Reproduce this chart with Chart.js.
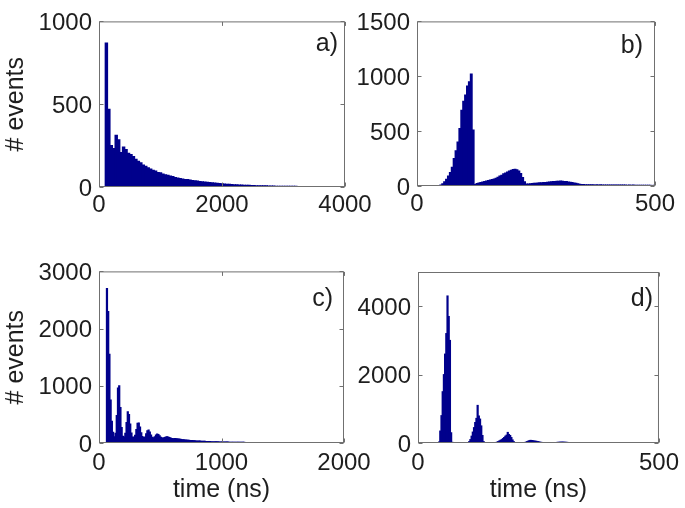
<!DOCTYPE html>
<html>
<head>
<meta charset="utf-8">
<script src="https://cdn.jsdelivr.net/npm/chart.js@4/dist/chart.umd.min.js"></script>
<style>
  html, body { margin: 0; background: #fff; }
  body { width: 685px; height: 508px; position: relative; overflow: hidden; }
  canvas { position: absolute; }
</style>
</head>
<body>
<canvas id="pa" width="380" height="250" style="left:0;top:0"></canvas>
<canvas id="pb" width="345" height="250" style="left:340px;top:0"></canvas>
<canvas id="pc" width="380" height="258" style="left:0;top:250px"></canvas>
<canvas id="pd" width="345" height="258" style="left:340px;top:250px"></canvas>
<script>
// Four arrival-time histograms. Counts, one value per bin.
// Bins are uniform per panel: first bin edge + bin width, both in ns.

// a) 40 ns bins from 100 ns
const binStartA = 100, binWidthA = 40;
const countsA = [
  870, 470, 250, 232, 312, 285, 208, 242, 226, 204,
  196, 184, 168, 155, 147, 133, 126, 116, 109, 101,
  96, 88, 86, 79, 74, 71, 66, 63, 57, 55,
  51, 49, 46, 45, 42, 40, 37, 36, 33, 32,
  30, 28, 27, 25, 24, 22, 21, 19, 18, 17,
  16, 15, 14, 13, 12, 12, 11, 10, 10, 9,
  9, 8, 8, 7, 7, 7, 6, 6, 6, 5,
  5, 5, 5, 4, 4, 4, 4, 4, 3, 3,
  3, 3, 3, 3, 3, 2, 2, 2, 2, 2,
  2, 2, 2, 2, 2, 2, 2,
];

// b) 4 ns bins from 40 ns
const binStartB = 40, binWidthB = 4;
const countsB = [
  1, 3, 9, 20, 38, 62, 92, 122, 172, 250,
  322, 402, 525, 690, 772, 830, 912, 950, 1020, 510,
  14, 22, 27, 33, 37, 42, 46, 50, 55, 59,
  63, 71, 80, 91, 99, 111, 119, 128, 137, 144,
  150, 153, 147, 136, 114, 78, 38, 19, 18, 20,
  23, 24, 26, 27, 29, 30, 32, 33, 35, 37,
  38, 40, 42, 44, 43, 45, 44, 41, 40, 37,
  35, 31, 28, 24, 20, 17, 14, 13, 12, 12,
  11, 11, 12, 10, 11, 10, 11, 10, 9, 10,
  9, 10, 9, 9, 8, 9, 8, 9, 8, 8,
  7, 8, 7, 8, 7, 7, 6, 7, 6, 7,
  6, 6, 6, 5, 6,
];

// c) 10 ns bins from 60 ns
const binStartC = 60, binWidthC = 10;
const countsC = [
  2700, 2300, 1550, 750, 380, 190, 110, 170, 480, 960,
  1000, 620, 270, 120, 105, 170, 360, 545, 500, 330,
  175, 105, 100, 135, 235, 345, 350, 280, 180, 115,
  95, 105, 160, 215, 226, 192, 140, 102, 92, 108,
  140, 157, 150, 125, 102, 88, 86, 96, 106, 110,
  104, 94, 86, 80, 76, 78, 80, 76, 71, 68,
  64, 62, 58, 57, 54, 52, 50, 47, 45, 44,
  42, 40, 38, 37, 36, 35, 33, 32, 31, 30,
  29, 28, 27, 26, 25, 24, 24, 23, 22, 21,
  21, 20, 19, 19, 18, 18, 17, 17, 16, 16,
  15, 15, 14, 14, 13, 13, 13, 12, 12, 12,
  11, 11, 11, 10, 10, 10, 10, 9, 9, 9,
  9, 8, 8, 8, 8, 8, 7, 7, 7, 7,
  7, 6, 6, 6, 6, 6, 6, 6, 5, 5,
  5, 5, 5, 5, 5, 5, 4, 4, 4, 4,
  4, 4, 4, 4, 4, 4, 4, 3, 3, 3,
  3, 3, 3, 3, 3, 3, 3, 3, 3, 3,
  3, 3, 2, 2, 2, 2, 2, 2, 2, 2,
  2, 2, 2, 2, 2, 2, 2, 2, 2, 2,
  2, 2, 2, 2,
];

// d) 2.5 ns bins from 40 ns
const binStartD = 40, binWidthD = 2.5;
const countsD = [
  0, 30, 350, 800, 1500, 2000, 2600, 3200, 4300, 3700,
  3000, 300, 20, 5, 2, 0, 0, 0, 0, 0,
  0, 0, 0, 2, 5, 10, 40, 100, 200, 320,
  450, 600, 720, 1100, 790, 700, 500, 220, 40, 10,
  3, 1, 0, 0, 0, 1, 2, 5, 10, 25,
  40, 60, 80, 100, 130, 160, 200, 230, 310, 250,
  220, 160, 90, 40, 15, 6, 3, 2, 2, 3,
  5, 8, 15, 25, 40, 55, 70, 78, 72, 66,
  60, 55, 48, 40, 32, 25, 18, 12, 8, 5,
  3, 2, 2, 3, 4, 6, 9, 12, 15, 18,
  21, 24, 26, 25, 27, 24, 22, 19, 16, 13,
  10, 8, 6, 4, 3, 3, 3, 4, 5, 6,
  7, 8, 9, 10, 10, 11, 10, 9, 8, 7,
  6, 5, 4, 3, 3, 2, 2, 2, 2, 1,
  1, 1, 1, 1,
];

// tick values per panel
const xTicksA = [0, 2000, 4000], yTicksA = [0, 500, 1000];
const xTicksB = [0, 500], yTicksB = [0, 500, 1000, 1500];
const xTicksC = [0, 1000, 2000], yTicksC = [0, 1000, 2000, 3000];
const xTicksD = [0, 500], yTicksD = [0, 2000, 4000];

const FONT = "'Liberation Sans', Arial, Helvetica, sans-serif";
const INK = "#1e1e1e";
const AXIS = "#707070";
const BAR = "#00008c";

Chart.defaults.font.family = FONT;
Chart.defaults.font.size = 24;
Chart.defaults.color = INK;

// matlab-ish box: full frame, inward ticks on all four sides, panel letter top right
const boxFrame = {
  id: "boxFrame",
  afterDatasetsDraw(chart, _args, opts) {
    const { ctx, chartArea: area, scales } = chart;
    const L = area.left + 0.5, R = area.right - 0.5, T = area.top + 0.5, B = area.bottom - 0.5;
    ctx.save();
    ctx.strokeStyle = AXIS;
    ctx.lineWidth = 1;
    ctx.strokeRect(L, T, R - L, B - T);
    ctx.beginPath();
    for (const t of scales.x.ticks) {
      const px = Math.round(scales.x.getPixelForValue(t.value)) + 0.5;
      ctx.moveTo(px, B); ctx.lineTo(px, B - 4);
      ctx.moveTo(px, T); ctx.lineTo(px, T + 4);
    }
    for (const t of scales.y.ticks) {
      const py = Math.round(scales.y.getPixelForValue(t.value)) + 0.5;
      ctx.moveTo(L, py); ctx.lineTo(L + 4, py);
      ctx.moveTo(R, py); ctx.lineTo(R - 4, py);
    }
    ctx.stroke();
    ctx.fillStyle = INK;
    ctx.font = `25px ${FONT}`;
    ctx.textAlign = "right";
    ctx.textBaseline = "middle";
    ctx.fillText(opts.letter, area.right - opts.dx, area.top + opts.dy);
    ctx.restore();
  },
};

function histogram(id, p) {
  const centers = p.counts.map((_, i) => p.start + (i + 0.5) * p.width);
  return new Chart(document.getElementById(id), {
    type: "bar",
    data: {
      labels: centers,
      datasets: [{
        data: p.counts,
        backgroundColor: BAR,
        borderWidth: 0,
        inflateAmount: 0.5, // slight overlap so no light seams between bins
        barPercentage: 1,
        categoryPercentage: 1,
      }],
    },
    options: {
      responsive: false,
      animation: false,
      events: [],
      layout: { padding: { top: p.padTop, right: p.padRight, left: 0, bottom: 0 } },
      plugins: {
        legend: { display: false },
        tooltip: { enabled: false },
        boxFrame: { letter: p.letter, dx: p.dx, dy: p.dy },
      },
      scales: {
        x: {
          type: "linear",
          min: 0,
          max: p.xMax,
          offset: false,
          grid: { display: false, drawTicks: false },
          border: { display: false },
          afterBuildTicks: (s) => { s.ticks = p.xTicks.map((v) => ({ value: v })); },
          afterFit: (s) => { s.height = p.xAxisHeight; },
          ticks: { autoSkip: false, maxRotation: 0, padding: p.xPad, callback: (v) => String(v) },
          title: { display: !!p.xTitle, text: p.xTitle, font: { size: 25 }, padding: { top: 0, bottom: 3 } },
        },
        y: {
          min: 0,
          max: p.yMax,
          grid: { display: false, drawTicks: false },
          border: { display: false },
          afterBuildTicks: (s) => { s.ticks = p.yTicks.map((v) => ({ value: v })); },
          afterFit: (s) => { s.width = p.yAxisWidth; },
          ticks: { padding: 7, labelOffset: 2, callback: (v) => String(v) },
          title: { display: !!p.yTitle, text: p.yTitle, font: { size: 25 }, padding: { top: 1, bottom: 0 } },
        },
      },
    },
    plugins: [boxFrame],
  });
}

histogram("pa", {
  start: binStartA, width: binWidthA, counts: countsA, xMax: 4000, yMax: 1000,
  xTicks: xTicksA, yTicks: yTicksA, yAxisWidth: 99, xAxisHeight: 63, padTop: 15, padRight: 35,
  xPad: 4, letter: "a)", dx: 7, dy: 23, yTitle: "# events",
});
histogram("pb", {
  start: binStartB, width: binWidthB, counts: countsB, xMax: 500, yMax: 1500,
  xTicks: xTicksB, yTicks: yTicksB, yAxisWidth: 77, xAxisHeight: 64, padTop: 15, padRight: 30,
  xPad: 4, letter: "b)", dx: 12, dy: 25,
});
histogram("pc", {
  start: binStartC, width: binWidthC, counts: countsC, xMax: 2000, yMax: 3000,
  xTicks: xTicksC, yTicks: yTicksC, yAxisWidth: 99, xAxisHeight: 65, padTop: 21, padRight: 36,
  xPad: 6, letter: "c)", dx: 11, dy: 28, yTitle: "# events", xTitle: "time (ns)",
});
histogram("pd", {
  start: binStartD, width: binWidthD, counts: countsD, xMax: 500, yMax: 5000,
  xTicks: xTicksD, yTicks: yTicksD, yAxisWidth: 78, xAxisHeight: 65, padTop: 22, padRight: 26,
  xPad: 6, letter: "d)", dx: 6, dy: 27, xTitle: "time (ns)",
});
</script>
</body>
</html>
